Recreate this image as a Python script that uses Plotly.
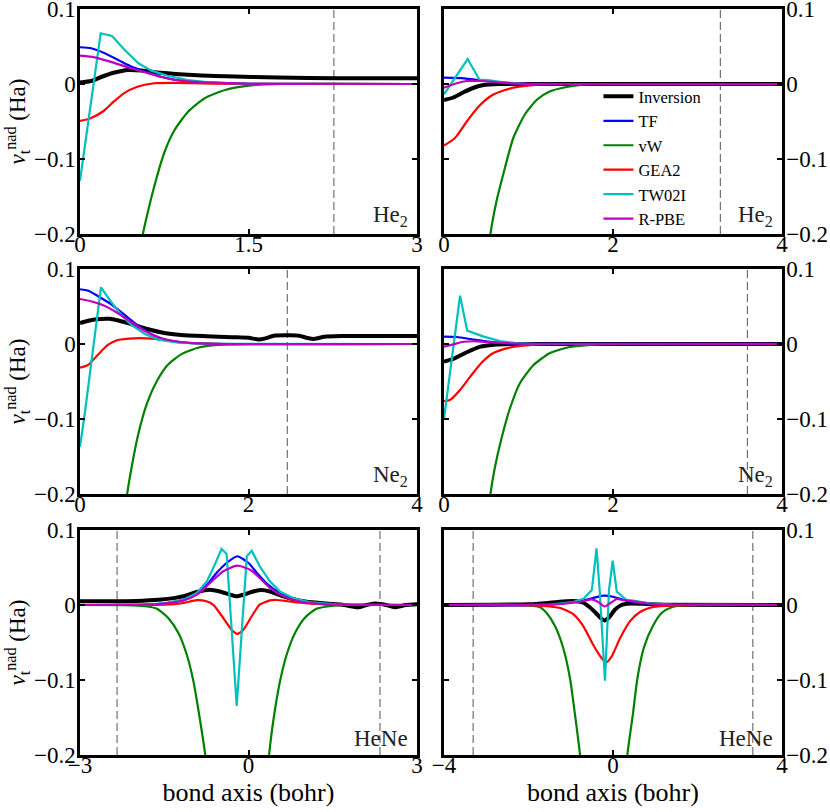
import plotly.graph_objects as go
from plotly.subplots import make_subplots

# ---- He2, left panel (x 0..3) ----
he2a_inv_x = [0, 0.1, 0.2, 0.3, 0.43, 0.55, 0.72, 1.0, 1.3, 1.76, 2.3, 3.0]
he2a_inv_y = [0.002, 0.004, 0.010, 0.015, 0.0187, 0.018, 0.015, 0.012, 0.0103, 0.0085, 0.0078, 0.0076]
he2a_tf_x = [0, 0.1, 0.22, 0.34, 0.46, 0.58, 0.72, 0.87, 1.17, 1.5, 3.0]
he2a_tf_y = [0.049, 0.0476, 0.041, 0.032, 0.023, 0.0165, 0.0097, 0.005, 0.0017, 0.0003, 0]
he2a_vw_x = [0.5, 0.56, 0.605, 0.68, 0.754, 0.843, 0.962, 1.11, 1.29, 1.52, 1.8, 3.0]
he2a_vw_y = [-0.26, -0.2, -0.170, -0.126, -0.090, -0.061, -0.037, -0.019, -0.008, -0.0018, 0, 0]
he2a_gea_x = [0, 0.09, 0.21, 0.30, 0.39, 0.51, 0.66, 0.87, 1.2, 3.0]
he2a_gea_y = [-0.0493, -0.046, -0.036, -0.0236, -0.0124, -0.0036, 0.001, 0.0015, 0.0003, 0]
he2a_tw_x = [0, 0.184, 0.285, 0.40, 0.52, 0.635, 0.78, 0.96, 1.17, 1.5, 3.0]
he2a_tw_y = [-0.129, 0.0676, 0.064, 0.045, 0.0276, 0.0178, 0.011, 0.0053, 0.002, 0.0003, 0]
he2a_pbe_x = [0, 0.13, 0.27, 0.43, 0.58, 0.72, 0.87, 1.17, 1.5, 3.0]
he2a_pbe_y = [0.0377, 0.0356, 0.0298, 0.022, 0.0156, 0.0097, 0.005, 0.0017, 0.0003, 0]

# ---- He2, right panel (x 0..4) ----
he2b_inv_x = [0, 0.11, 0.23, 0.35, 0.47, 0.65, 1.0, 4.0]
he2b_inv_y = [-0.0213, -0.018, -0.011, -0.005, -0.0013, 0, 0, 0]
he2b_tf_x = [0, 0.24, 0.43, 0.67, 0.9, 4.0]
he2b_tf_y = [0.0084, 0.0076, 0.005, 0.0022, 0.0005, 0]
he2b_vw_x = [0.5, 0.55, 0.62, 0.70, 0.82, 0.96, 1.10, 1.25, 1.45, 1.69, 2.0, 4.0]
he2b_vw_y = [-0.26, -0.2, -0.157, -0.121, -0.072, -0.040, -0.021, -0.010, -0.004, -0.0004, 0, 0]
he2b_gea_x = [0, 0.13, 0.27, 0.41, 0.56, 0.72, 0.89, 1.13, 1.5, 4.0]
he2b_gea_y = [-0.082, -0.072, -0.050, -0.030, -0.0156, -0.008, -0.0036, -0.001, 0, 0]
he2b_tw_x = [0, 0.28, 0.42, 0.54, 0.73, 1.0, 4.0]
he2b_tw_y = [-0.0138, 0.0333, 0.0057, 0.005, 0.002, 0, 0]
he2b_pbe_x = [0, 0.15, 0.27, 0.43, 0.67, 0.9, 4.0]
he2b_pbe_y = [-0.005, 0.001, 0.004, 0.004, 0.002, 0.0004, 0]

# ---- Ne2, left panel (x 0..4) ----
ne2a_inv_x = [0, 0.1, 0.2, 0.35, 0.5, 0.6, 0.8, 1.0, 1.2, 1.5, 1.8, 2.0, 2.12, 2.2, 2.3,
              2.5, 2.6, 2.7, 2.78, 2.9, 3.1, 3.5, 4.0]
ne2a_inv_y = [0.028, 0.031, 0.033, 0.0335, 0.030, 0.027, 0.020, 0.0147, 0.012, 0.0103, 0.009,
              0.0082, 0.006, 0.0075, 0.011, 0.0115, 0.011, 0.008, 0.0068, 0.0095, 0.0105, 0.0107, 0.0107]
ne2a_tf_x = [0, 0.1, 0.21, 0.37, 0.53, 0.69, 0.85, 1.0, 1.24, 1.6, 4.0]
ne2a_tf_y = [0.073, 0.071, 0.064, 0.053, 0.0387, 0.0244, 0.013, 0.006, 0.002, 0.0002, 0]
ne2a_vw_x = [0.5, 0.56, 0.61, 0.69, 0.79, 0.91, 1.04, 1.20, 1.40, 1.64, 2.0, 4.0]
ne2a_vw_y = [-0.26, -0.2, -0.166, -0.121, -0.081, -0.050, -0.028, -0.0138, -0.005, -0.0013, 0, 0]
ne2a_gea_x = [0, 0.095, 0.21, 0.33, 0.45, 0.65, 0.89, 1.12, 1.36, 1.7, 4.0]
ne2a_gea_y = [-0.0316, -0.028, -0.0147, -0.0013, 0.0053, 0.0076, 0.0067, 0.003, 0.0007, 0, 0]
ne2a_tw_x = [0, 0.06, 0.249, 0.37, 0.49, 0.61, 0.77, 0.93, 1.17, 1.5, 4.0]
ne2a_tw_y = [-0.137, -0.09, 0.0756, 0.056, 0.0387, 0.0253, 0.0133, 0.0058, 0.0017, 0.0002, 0]
ne2a_pbe_x = [0, 0.13, 0.29, 0.45, 0.61, 0.77, 0.93, 1.17, 1.5, 4.0]
ne2a_pbe_y = [0.060, 0.057, 0.051, 0.041, 0.029, 0.0173, 0.009, 0.003, 0.0004, 0]

# ---- Ne2, right panel (x 0..4) ----
ne2b_inv_x = [0, 0.11, 0.27, 0.43, 0.59, 0.8, 4.0]
ne2b_inv_y = [-0.0236, -0.020, -0.011, -0.0036, -0.001, 0, 0]
ne2b_tf_x = [0, 0.15, 0.35, 0.55, 0.75, 1.0, 4.0]
ne2b_tf_y = [0.0098, 0.0093, 0.0058, 0.0027, 0.0009, 0.0002, 0]
ne2b_vw_x = [0.5, 0.55, 0.60, 0.68, 0.78, 0.90, 1.06, 1.25, 1.49, 1.80, 2.1, 4.0]
ne2b_vw_y = [-0.26, -0.2, -0.166, -0.126, -0.086, -0.052, -0.028, -0.0124, -0.004, -0.0008, 0, 0]
ne2b_gea_x = [0, 0.07, 0.19, 0.31, 0.45, 0.58, 0.74, 0.93, 1.2, 1.6, 4.0]
ne2b_gea_y = [-0.076, -0.0747, -0.0613, -0.0436, -0.0244, -0.0124, -0.0058, -0.0022, -0.0005, 0, 0]
ne2b_tw_x = [0, 0.19, 0.275, 0.47, 0.66, 0.85, 1.1, 4.0]
ne2b_tw_y = [-0.100, 0.0644, 0.0178, 0.0098, 0.004, 0.0013, 0, 0]
ne2b_pbe_x = [0, 0.11, 0.23, 0.39, 0.63, 0.9, 4.0]
ne2b_pbe_y = [-0.0036, -0.0005, 0.003, 0.0036, 0.0018, 0.0003, 0]

# ---- HeNe, left panel (x -3..3) ----
henea_inv_x = [-3, -2.5, -2.0, -1.6, -1.3, -1.16, -0.92, -0.69, -0.51, -0.33, -0.21, -0.09, 0.085,
               0.235, 0.38, 0.62, 0.92, 1.33, 1.7, 1.95, 2.1, 2.25, 2.45, 2.6, 2.8, 3.0]
henea_inv_y = [0.005, 0.005, 0.0055, 0.007, 0.0095, 0.0116, 0.0173, 0.0204, 0.018, 0.0138, 0.0116,
               0.0138, 0.018, 0.020, 0.018, 0.0116, 0.0058, 0.0022, 0.0, -0.003, 0.0, 0.002, 0.0,
               -0.003, 0.0, 0.001]
henea_tf_x = [-3, -1.8, -1.46, -1.16, -0.92, -0.74, -0.57, -0.39, -0.2, 0.0, 0.15, 0.32, 0.56, 0.8,
              1.1, 1.57, 2.0, 3.0]
henea_tf_y = [0, 0.0005, 0.0027, 0.007, 0.016, 0.027, 0.0427, 0.056, 0.065, 0.056, 0.0427, 0.029,
              0.016, 0.008, 0.0036, 0.001, 0.0002, 0]
henea_vw_x = [-3, -2.05, -1.8, -1.63, -1.43, -1.25, -1.10, -0.98, -0.86, -0.77, -0.7, None,
              0.3, 0.365, 0.44, 0.56, 0.68, 0.83, 1.0, 1.21, 1.57, 1.8, 3.0]
henea_vw_y = [0, -0.0005, -0.002, -0.005, -0.0173, -0.037, -0.066, -0.102, -0.155, -0.2, -0.25, None,
              -0.25, -0.2, -0.155, -0.102, -0.066, -0.037, -0.0173, -0.005, -0.0007, 0, 0]
henea_gea_x = [-3, -1.5, -1.2, -0.92, -0.75, -0.63, -0.45, -0.30, -0.2, -0.09, 0.057, 0.2, 0.38,
               0.5, 0.7, 0.92, 1.33, 2.0, 3.0]
henea_gea_y = [0, 0.0005, 0.002, 0.0065, 0.005, 0.0004, -0.0173, -0.033, -0.0385, -0.033, -0.015,
               0.0004, 0.0062, 0.0067, 0.005, 0.003, 0.001, 0.0001, 0]
henea_tw_x = [-3, -1.8, -1.46, -1.16, -0.92, -0.74, -0.6, -0.48, -0.39, -0.21, -0.03, 0.057, 0.2,
              0.38, 0.56, 0.8, 1.1, 1.57, 2.0, 3.0]
henea_tw_y = [0, 0.0004, 0.0027, 0.0071, 0.016, 0.0316, 0.0538, 0.0747, 0.068, -0.1347, 0.065,
              0.0724, 0.0516, 0.0316, 0.018, 0.0089, 0.0036, 0.001, 0.0002, 0]
henea_pbe_x = [-3, -1.8, -1.46, -1.16, -0.92, -0.69, -0.45, -0.2, 0.03, 0.2, 0.38, 0.62, 0.92,
               1.33, 2.0, 3.0]
henea_pbe_y = [0, 0.0004, 0.0022, 0.0058, 0.0138, 0.029, 0.045, 0.0524, 0.047, 0.036, 0.0227,
               0.0116, 0.0044, 0.0013, 0.0001, 0]

# ---- HeNe, right panel (x -4..4) ----
heneb_inv_x = [-4, -2.0, -1.5, -1.1, -0.86, -0.7, -0.55, -0.4, -0.28, -0.2, -0.1, 0.05, 0.2, 0.4,
               0.8, 1.3, 4.0]
heneb_inv_y = [0, 0.001, 0.003, 0.005, 0.005, 0.003, -0.003, -0.011, -0.018, -0.0205, -0.017,
               -0.006, 0.0, 0.002, 0.0015, 0.0005, 0]
heneb_tf_x = [-4, -1.5, -0.94, -0.54, -0.23, 0.0, 0.32, 0.64, 1.0, 1.5, 4.0]
heneb_tf_y = [0, 0.0005, 0.004, 0.0084, 0.0124, 0.011, 0.0058, 0.0027, 0.001, 0.0002, 0]
heneb_vw_x = [-4, -2.2, -1.73, -1.57, -1.37, -1.18, -1.02, -0.90, -0.78, -0.72, None,
              0.28, 0.34, 0.47, 0.58, 0.73, 0.94, 1.15, 1.39, 1.74, 4.0]
heneb_vw_y = [0, 0, -0.003, -0.0107, -0.0284, -0.057, -0.097, -0.146, -0.2, -0.25, None,
              -0.25, -0.2, -0.146, -0.097, -0.057, -0.0284, -0.0107, -0.003, 0, 0]
heneb_gea_x = [-4, -2.2, -1.73, -1.25, -0.94, -0.70, -0.47, -0.27, -0.16, -0.03, 0.17, 0.40, 0.64,
               0.95, 1.4, 2.0, 4.0]
heneb_gea_y = [0, 0, -0.001, -0.004, -0.012, -0.0284, -0.053, -0.0707, -0.0765, -0.0684, -0.044,
               -0.0218, -0.0093, -0.0027, -0.0004, 0, 0]
heneb_tw_x = [-4, -1.5, -0.94, -0.70, -0.50, -0.39, -0.31, -0.19, -0.095, -0.007, 0.09, 0.32, 0.48,
              0.87, 1.4, 4.0]
heneb_tw_y = [0, 0.0005, 0.004, 0.0084, 0.020, 0.0756, 0.0156, -0.101, 0.020, 0.059, 0.0178,
              0.0067, 0.0058, 0.0022, 0.0004, 0]
heneb_pbe_x = [-4, -1.5, -0.79, -0.5, -0.35, -0.2, -0.05, 0.09, 0.2, 0.4, 0.8, 1.3, 4.0]
heneb_pbe_y = [0, 0.0005, 0.004, 0.0075, 0.004, -0.002, 0.003, 0.008, 0.007, 0.0055, 0.002,
               0.0005, 0]

# axis ranges, ticks, labels and dashed markers per panel
x_ranges = [[0, 3], [0, 4], [0, 4], [0, 4], [-3, 3], [-4, 4]]
x_ticks = [[0, 1.5, 3], [0, 2, 4], [0, 2, 4], [0, 2, 4], [-3, 0, 3], [-4, 0, 4]]
x_ticktext = [["0", "1.5", "3"], ["0", "2", "4"], ["0", "2", "4"], ["0", "2", "4"],
              ["\u22123", "0", "3"], ["\u22124", "0", "4"]]
dashed_x = [[2.26], [3.27], [2.46], [3.59], [-2.34, 2.34], [-3.31, 3.31]]
panel_names = ["He<sub>2</sub>", "He<sub>2</sub>", "Ne<sub>2</sub>", "Ne<sub>2</sub>", "HeNe", "HeNe"]
y_ticks = [-0.2, -0.1, 0, 0.1]
y_ticktext = ["\u22120.2", "\u22120.1", "0", "0.1"]

series_names = ["Inversion", "TF", "vW", "GEA2", "TW02I", "R-PBE"]
series_colors = ["#000000", "#0000ff", "#008000", "#ff0000", "#00bfbf", "#bf00bf"]
series_widths = [4, 2.2, 2.2, 2.2, 2.2, 2.2]


def main():
    panels = [
        [(he2a_inv_x, he2a_inv_y), (he2a_tf_x, he2a_tf_y), (he2a_vw_x, he2a_vw_y),
         (he2a_gea_x, he2a_gea_y), (he2a_tw_x, he2a_tw_y), (he2a_pbe_x, he2a_pbe_y)],
        [(he2b_inv_x, he2b_inv_y), (he2b_tf_x, he2b_tf_y), (he2b_vw_x, he2b_vw_y),
         (he2b_gea_x, he2b_gea_y), (he2b_tw_x, he2b_tw_y), (he2b_pbe_x, he2b_pbe_y)],
        [(ne2a_inv_x, ne2a_inv_y), (ne2a_tf_x, ne2a_tf_y), (ne2a_vw_x, ne2a_vw_y),
         (ne2a_gea_x, ne2a_gea_y), (ne2a_tw_x, ne2a_tw_y), (ne2a_pbe_x, ne2a_pbe_y)],
        [(ne2b_inv_x, ne2b_inv_y), (ne2b_tf_x, ne2b_tf_y), (ne2b_vw_x, ne2b_vw_y),
         (ne2b_gea_x, ne2b_gea_y), (ne2b_tw_x, ne2b_tw_y), (ne2b_pbe_x, ne2b_pbe_y)],
        [(henea_inv_x, henea_inv_y), (henea_tf_x, henea_tf_y), (henea_vw_x, henea_vw_y),
         (henea_gea_x, henea_gea_y), (henea_tw_x, henea_tw_y), (henea_pbe_x, henea_pbe_y)],
        [(heneb_inv_x, heneb_inv_y), (heneb_tf_x, heneb_tf_y), (heneb_vw_x, heneb_vw_y),
         (heneb_gea_x, heneb_gea_y), (heneb_tw_x, heneb_tw_y), (heneb_pbe_x, heneb_pbe_y)],
    ]

    fig = make_subplots(rows=3, cols=2)

    x_domains = [[0, 0.4801], [0.5185, 1]]
    y_domains = [[0.6984, 1], [0.3499, 0.6515], [0, 0.3016]]
    font = "Liberation Serif"

    for i, curves in enumerate(panels):
        row, col = i // 2 + 1, i % 2 + 1
        for k, (xs, ys) in enumerate(curves):
            # TW02I is drawn as a coarse polyline, the rest are smooth
            shape = "linear" if k == 4 else "spline"
            fig.add_trace(
                go.Scatter(
                    x=xs, y=ys, mode="lines",
                    name=series_names[k],
                    line=dict(color=series_colors[k], width=series_widths[k],
                              shape=shape, smoothing=0.6),
                    connectgaps=False,
                    showlegend=(i == 1),
                ), row=row, col=col
            )
        for xv in dashed_x[i]:
            fig.add_vline(x=xv, row=row, col=col, layer="below",
                          line=dict(color="#555555", width=1, dash="8px,4px"))

        fig.update_xaxes(
            domain=x_domains[col - 1], range=x_ranges[i],
            tickvals=x_ticks[i], ticktext=x_ticktext[i],
            ticks="inside", ticklen=5, tickwidth=1.5, tickcolor="black",
            showline=True, linewidth=2.5, linecolor="black", mirror="ticks",
            showgrid=False, zeroline=False, automargin=False,
            ticklabelstandoff=-12, ticklabeloverflow="allow",
            tickfont=dict(family=font, size=23, color="black"),
            row=row, col=col
        )
        fig.update_yaxes(
            domain=y_domains[row - 1], range=[-0.2, 0.1],
            tickvals=y_ticks, ticktext=y_ticktext,
            side="left" if col == 1 else "right",
            ticks="inside", ticklen=5, tickwidth=1.5, tickcolor="black",
            showline=True, linewidth=2.5, linecolor="black", mirror="ticks",
            showgrid=False, zeroline=False, automargin=False,
            ticklabelstandoff=-3, ticklabeloverflow="allow",
            tickfont=dict(family=font, size=23, color="black"),
            row=row, col=col
        )
        if col == 1:
            fig.update_yaxes(
                title=dict(text="<i>v</i><sub>t</sub><sup>nad</sup> (Ha)",
                           font=dict(family=font, size=23, color="black"), standoff=2),
                row=row, col=col
            )
        if row == 3:
            fig.update_xaxes(
                title=dict(text="bond axis (bohr)",
                           font=dict(family=font, size=26, color="black"), standoff=0),
                row=row, col=col
            )

        # molecule label in the lower right corner
        ax = "" if i == 0 else str(i + 1)
        fig.add_annotation(
            text=panel_names[i], xref="x" + ax + " domain", yref="y" + ax + " domain",
            x=0.98, y=0.01, xanchor="right", yanchor="bottom", showarrow=False,
            font=dict(family=font, size=23, color="#222222"),
        )

    fig.update_layout(
        width=830, height=812,
        margin=dict(l=80, r=48, t=9, b=57, autoexpand=False),
        plot_bgcolor="white", paper_bgcolor="white",
        font=dict(family=font, color="black"),
        legend=dict(
            x=0.7385, y=0.906, xanchor="left", yanchor="top",
            bgcolor="rgba(0,0,0,0)", borderwidth=0,
            font=dict(family=font, size=16.5, color="black"),
            tracegroupgap=0,
        ),
    )
    # page margin off so the 830x812 figure fills the window exactly
    fig.write_html("out.html", config={"displayModeBar": False},
                   post_script="document.body.style.margin='0';")


if __name__ == '__main__':
    main()
